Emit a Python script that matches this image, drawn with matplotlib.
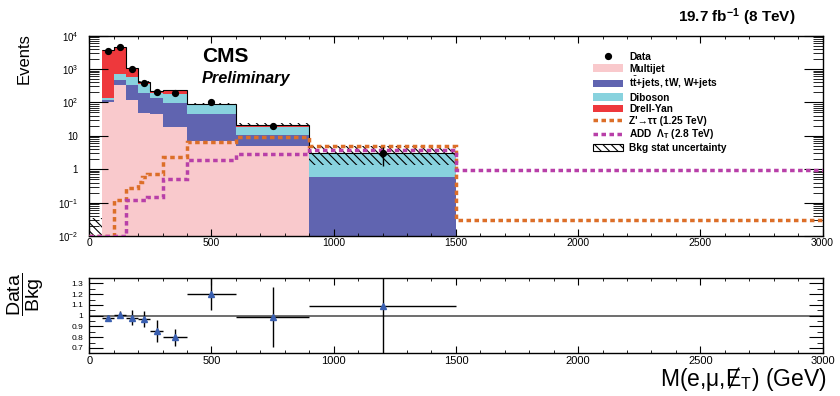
import numpy as np
import matplotlib
matplotlib.use('Agg')
import matplotlib.pyplot as plt
from matplotlib.patches import Patch
from matplotlib.lines import Line2D
from matplotlib.ticker import MultipleLocator, FixedLocator, FixedFormatter, LogLocator, NullFormatter

plt.rcParams['font.family'] = ['Liberation Sans', 'DejaVu Sans']
plt.rcParams['mathtext.fontset'] = 'custom'
plt.rcParams['mathtext.rm'] = 'Liberation Sans'
plt.rcParams['mathtext.it'] = 'Liberation Sans:italic'
plt.rcParams['mathtext.bf'] = 'Liberation Sans:bold'
plt.rcParams['hatch.linewidth'] = 0.8

# background bins (GeV)
edges = [0, 50, 100, 150, 200, 250, 300, 400, 600, 900, 1500]
multijet = [0, 105, 331, 117, 49, 45, 18.6, 7.1, 4.9, 0]
ttbar = [0, 12, 137, 214, 137, 87, 79, 38, 5.6, 0.59]
diboson = [0, 15, 240, 258, 161, 54, 76, 42, 8.1, 2.5]
drellyan = [0, 3568, 3762, 507, 70, 39, 55, 2, 2.8, 0]
bkg_unc = [0.035, 60, 70, 30, 12, 10, 10, 7, 2.2, 1.75]

# signal histograms
sig_edges = [0, 100, 150, 200, 215, 235, 300, 400, 600, 900, 1500, 3000]
zprime = [0.0102, 0.12, 0.27, 0.42, 0.57, 0.71, 2.4, 6.5, 9.5, 4.9, 0.031]
add = [0.0102, 0.0102, 0.12, 0.12, 0.12, 0.15, 0.52, 1.9, 2.8, 3.7, 0.93]

# data
data_x = [75, 125, 175, 225, 275, 350, 500, 750, 1200]
data_y = [3550, 4470, 1010, 389, 200, 186, 100, 20, 3]
data_err = [60, 67, 32, 20, 14, 14, 10, 4.5, 1.73]

# data / bkg
ratio = [0.98, 1.01, 0.98, 0.97, 0.86, 0.80, 1.20, 0.99, 1.09]
ratio_err = [0.03, 0.035, 0.07, 0.075, 0.1, 0.08, 0.15, 0.28, 0.6]

ytick_vals = [1e-2, 1e-1, 1, 10, 1e2, 1e3, 1e4]
ytick_labels = ['$10^{-2}$', '$10^{-1}$', '1', '10', '$10^{2}$', '$10^{3}$', '$10^{4}$']
rtick_vals = [0.7, 0.8, 0.9, 1.0, 1.1, 1.2, 1.3]
rtick_labels = ['0.7', '0.8', '0.9', '1', '1.1', '1.2', '1.3']

c_mj = '#f9c9cc'
c_tt = '#6064b0'
c_vv = '#88d2de'
c_dy = '#ee383c'
c_zp = '#dc6e28'
c_add = '#b83fa8'
dash = (0, (1.3, 1.0))

fig = plt.figure(figsize=(8.4, 3.96), dpi=100)
ax1 = fig.add_axes([0.1063, 0.404, 0.8729, 0.506])
ax2 = fig.add_axes([0.1063, 0.109, 0.8729, 0.189])

# stacked backgrounds
cum = np.zeros(len(multijet))
for vals, col in zip([multijet, ttbar, diboson, drellyan], [c_mj, c_tt, c_vv, c_dy]):
    top = cum + np.array(vals)
    ax1.stairs(np.where(top > 0, top, 1e-5), edges, baseline=np.where(cum > 0, cum, 1e-5),
               fill=True, color=col, lw=0, zorder=1)
    cum = top
total = cum

unc = np.array(bkg_unc)
ax1.stairs(total + unc, edges, baseline=np.maximum(total - unc, 1e-5), fill=True,
           facecolor='none', edgecolor='black', hatch='\\\\\\\\', lw=0, zorder=2)
ax1.stairs(total[1:], edges[1:], baseline=None, color='black', lw=0.8, zorder=3)

ax1.stairs(zprime, sig_edges, baseline=None, color=c_zp, lw=2.5, linestyle=dash, zorder=4)
ax1.stairs(add, sig_edges, baseline=None, color=c_add, lw=2.5, linestyle=dash, zorder=4)

ax1.errorbar(data_x, data_y, yerr=data_err, fmt='o', color='black', ms=4.2, lw=1,
             capsize=0, zorder=5)

ax1.set_yscale('log')
ax1.set_ylim(1e-2, 1e4)
ax1.set_xlim(0, 3000)
ax1.yaxis.set_major_locator(FixedLocator(ytick_vals))
ax1.yaxis.set_major_formatter(FixedFormatter(ytick_labels))
ax1.yaxis.set_minor_locator(LogLocator(base=10, subs=np.arange(2, 10), numticks=20))
ax1.yaxis.set_minor_formatter(NullFormatter())
ax1.xaxis.set_major_locator(MultipleLocator(500))
ax1.xaxis.set_minor_locator(MultipleLocator(100))
ax1.tick_params(axis='y', which='major', direction='in', length=14, width=0.8,
                left=True, right=True, labelsize=7, pad=8)
ax1.tick_params(axis='y', which='minor', direction='in', length=7, width=0.6,
                left=True, right=True)
ax1.tick_params(axis='x', which='major', direction='in', length=5, width=0.8,
                top=True, bottom=True, labelsize=7.5, pad=1.5)
ax1.tick_params(axis='x', which='minor', direction='in', length=2.5, width=0.6,
                top=True, bottom=True)
for s in ax1.spines.values():
    s.set_linewidth(1.0)

# legend
handles = [
    Line2D([], [], marker='o', color='black', ls='none', ms=4.2),
    Patch(facecolor=c_mj, edgecolor='none'),
    Patch(facecolor=c_tt, edgecolor='none'),
    Patch(facecolor=c_vv, edgecolor='none'),
    Patch(facecolor=c_dy, edgecolor='none'),
    Line2D([], [], color=c_zp, lw=2.5, ls=dash),
    Line2D([], [], color=c_add, lw=2.5, ls=dash),
    Patch(facecolor='white', edgecolor='black', hatch='\\\\\\\\', lw=0.8),
]
labels = ['Data', 'Multijet', 't$\\bar{\\mathbf{t}}$+jets, tW, W+jets', 'Diboson', 'Drell-Yan',
          "Z'\u2192\u03c4\u03c4 (1.25 TeV)", 'ADD  \u039b$_{\\mathbf{T}}$ (2.8 TeV)',
          'Bkg stat uncertainty']
fig.legend(handles, labels, loc='upper left', bbox_to_anchor=(593 / 840, 1 - 52 / 396),
           frameon=False, borderpad=0, borderaxespad=0, handlelength=2.95,
           handletextpad=0.6, labelspacing=0.15, prop={'size': 7.3, 'weight': 'bold'})

# ratio panel
ratio_xerr = [(edges[i + 2] - edges[i + 1]) / 2 for i in range(len(data_x))]
ax2.axhline(1.0, color='#555555', lw=1.2, zorder=1)
ax2.errorbar(data_x, ratio, xerr=ratio_xerr, yerr=ratio_err, fmt='^', color='black',
             mfc='#3a5fb0', mec='#3a5fb0', ms=4, lw=1, capsize=0, zorder=3)
ax2.set_xlim(0, 3000)
ax2.set_ylim(0.655, 1.35)
ax2.yaxis.set_major_locator(FixedLocator(rtick_vals))
ax2.yaxis.set_major_formatter(FixedFormatter(rtick_labels))
ax2.yaxis.set_minor_locator(MultipleLocator(0.05))
ax2.xaxis.set_major_locator(MultipleLocator(500))
ax2.xaxis.set_minor_locator(MultipleLocator(100))
ax2.tick_params(axis='y', which='major', direction='in', length=10, width=0.8,
                left=True, right=True, labelsize=6, pad=4.5)
ax2.tick_params(axis='y', which='minor', direction='in', length=4.5, width=0.6,
                left=True, right=True)
ax2.tick_params(axis='x', which='major', direction='in', length=5, width=0.8,
                top=True, bottom=True, labelsize=8, pad=2)
ax2.tick_params(axis='x', which='minor', direction='in', length=2.5, width=0.6,
                top=True, bottom=True)
for s in ax2.spines.values():
    s.set_linewidth(1.0)

# texts
fig.text(24 / 840, 1 - 33 / 396, 'Events', rotation=90, ha='center', va='top', fontsize=12)
fig.text(26 / 840, 1 - 294 / 396, '$\\dfrac{\\mathrm{Data}}{\\mathrm{Bkg}}$', rotation=90,
         ha='center', va='center', fontsize=14)
fig.text(827 / 840, 1 - 386 / 396, 'M(e,\u03bc,\u0246$_{\\mathrm{T}}$) (GeV)', ha='right',
         va='baseline', fontsize=16.5)
fig.text(202 / 840, 1 - 62 / 396, 'CMS', ha='left', va='baseline', fontsize=15, weight='bold')
fig.text(202 / 840, 1 - 83 / 396, 'Preliminary', ha='left', va='baseline', fontsize=11.7,
         weight='bold', style='italic')
fig.text(795 / 840, 1 - 21.7 / 396, '19.7 fb$^{\\mathbf{-1}}$ (8 TeV)', ha='right',
         va='baseline', fontsize=11, weight='bold')

fig.savefig('out.png', dpi=100)
